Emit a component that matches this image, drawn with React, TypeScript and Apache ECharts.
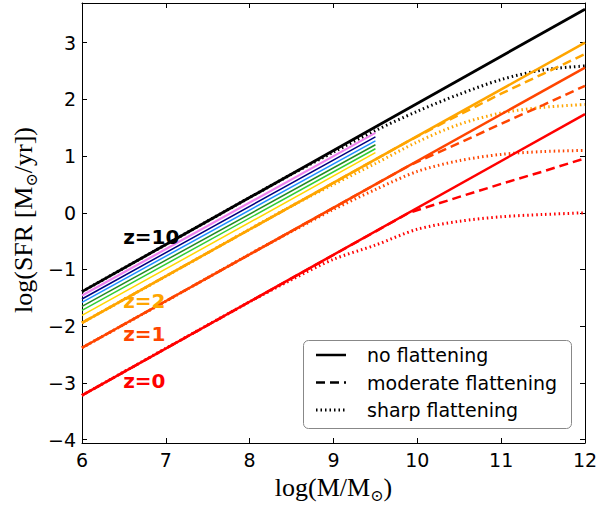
import React, { useEffect, useRef } from "react";
import * as echarts from "echarts";

// ---- axes ----
const X_MIN = 6;
const X_MAX = 12;
const Y_MIN = -4.06;
const Y_MAX = 3.7;
const yTicks = [-4, -3, -2, -1, 0, 1, 2, 3];

// ---- no flattening (straight main sequences) ----
const xFull = [6, 12];
const solidZ10 = [-1.39, 3.59];
const solidZ2 = [-1.94, 3.0];
const solidZ1 = [-2.38, 2.56];
const solidZ0 = [-3.22, 1.74];

// ---- intermediate redshifts (thin lines, stop at 9.5) ----
const xShort = [6, 9.5];
const thinZ9 = [-1.46, 1.41];
const thinZ8 = [-1.52, 1.34];
const thinZ7 = [-1.58, 1.27];
const thinZ6 = [-1.65, 1.2];
const thinZ5 = [-1.72, 1.13];
const thinZ3 = [-1.81, 1.06];

// ---- moderate flattening (dashed) ----
const xDashed = [6, 9.9, 10.5, 11, 11.5, 12];
const dashedZ2 = [-1.94, 1.27, 1.73, 2.1, 2.45, 2.8];
const dashedZ1 = [-2.38, 0.83, 1.23, 1.57, 1.9, 2.24];
const dashedZ0 = [-3.22, 0.0, 0.28, 0.51, 0.73, 0.96];

// ---- sharp flattening (dotted) ----
const xDotted = [6, 7, 8, 8.5, 9, 9.5, 10, 10.5, 11, 11.5, 12];
const dottedZ10 = [-1.39, -0.56, 0.27, 0.68, 1.07, 1.45, 1.79, 2.09, 2.35, 2.52, 2.59];
const dottedZ2 = [-1.94, -1.12, -0.29, 0.12, 0.5, 0.87, 1.25, 1.56, 1.76, 1.86, 1.91];
const dottedZ1 = [-2.38, -1.56, -0.73, -0.33, 0.06, 0.41, 0.73, 0.92, 1.03, 1.08, 1.1];
const dottedZ0 = [-3.22, -2.39, -1.57, -1.18, -0.82, -0.57, -0.29, -0.15, -0.07, -0.03, 0.0];

// ---- annotations ----
const zLabelText = ["z=10", "z=2", "z=1", "z=0"];
const zLabelX = [6.49, 6.49, 6.49, 6.49];
const zLabelY = [-0.42, -1.56, -2.13, -2.97];
const zLabelColor = ["#000000", "#ffa500", "#ff4500", "#ff0000"];

const legendLabels = ["no flattening", "moderate flattening", "sharp flattening"];

const RED = "#ff0000";
const ORANGERED = "#ff4500";
const ORANGE = "#ffa500";

const pts = (xs: number[], ys: number[]) => xs.map((x, i) => [x, ys[i]]);

const DASH = [9, 5];
const DOT = [1.5, 3];

function lineSeries(name: string, data: number[][], color: string, width: number, type: any, smooth: any = false) {
  return {
    type: "line",
    name,
    data,
    showSymbol: false,
    symbol: "none",
    smooth,
    silent: true,
    xAxisIndex: 0,
    yAxisIndex: 0,
    lineStyle: { color, width, type, cap: "butt", opacity: 1 },
  };
}

export default function App() {
  const ref = useRef<HTMLDivElement>(null);
  useEffect(() => {
    if (!ref.current) return;
    const chart = echarts.init(ref.current, undefined, { renderer: "svg" });
    const tickFont = { fontSize: 19, color: "#000", fontFamily: "DejaVu Sans" };
    const axisCommon = {
      type: "value",
      axisLine: { show: true, onZero: false, lineStyle: { color: "#000", width: 1 } },
      axisTick: { show: true, inside: true, length: 5, lineStyle: { color: "#000", width: 1 } },
      splitLine: { show: false },
    };
    const series: any[] = [
      lineSeries("sharp z10", pts(xDotted, dottedZ10), "#000000", 3, DOT, 0.3),
      lineSeries("sharp z2", pts(xDotted, dottedZ2), ORANGE, 3, DOT, 0.3),
      lineSeries("sharp z1", pts(xDotted, dottedZ1), ORANGERED, 3, DOT, 0.3),
      lineSeries("sharp z0", pts(xDotted, dottedZ0), RED, 3, DOT, 0.3),
      lineSeries("moderate z2", pts(xDashed, dashedZ2), ORANGE, 2.5, DASH),
      lineSeries("moderate z1", pts(xDashed, dashedZ1), ORANGERED, 2.5, DASH),
      lineSeries("moderate z0", pts(xDashed, dashedZ0), RED, 2.5, DASH),
      lineSeries("z3", pts(xShort, thinZ3), "#ffd700", 1.5, "solid"),
      lineSeries("z5", pts(xShort, thinZ5), "#32cd32", 1.5, "solid"),
      lineSeries("z6", pts(xShort, thinZ6), "#228b22", 1.5, "solid"),
      lineSeries("z7", pts(xShort, thinZ7), "#1e90ff", 1.5, "solid"),
      lineSeries("z8", pts(xShort, thinZ8), "#000080", 1.5, "solid"),
      lineSeries("z9", pts(xShort, thinZ9), "#ee82ee", 2.2, "solid"),
      lineSeries("z0", pts(xFull, solidZ0), RED, 2.5, "solid"),
      lineSeries("z1", pts(xFull, solidZ1), ORANGERED, 2.5, "solid"),
      lineSeries("z2", pts(xFull, solidZ2), ORANGE, 2.5, "solid"),
      lineSeries("z10", pts(xFull, solidZ10), "#000000", 2.8, "solid"),
      {
        type: "scatter",
        name: "labels",
        silent: true,
        symbolSize: 0.1,
        itemStyle: { color: "rgba(0,0,0,0)", opacity: 1 },
        data: zLabelText.map((t, i) => ({
          value: [zLabelX[i], zLabelY[i]],
          label: { formatter: t, color: zLabelColor[i], opacity: 1 },
        })),
        label: {
          show: true,
          position: "right",
          distance: 0,
          fontSize: 20,
          fontWeight: "bold",
          fontFamily: "DejaVu Sans",
          opacity: 1,
        },
        z: 10,
      },
    ];

    const legendY = [355, 382.5, 410];
    const legendDash: any[] = [null, DASH, DOT];
    const legendElems: any[] = [
      {
        type: "rect",
        shape: { x: 303.5, y: 340.5, width: 268, height: 88, r: 5 },
        style: { fill: "#ffffff", stroke: "#888888", lineWidth: 1 },
        z: 100,
      },
    ];
    legendLabels.forEach((t, i) => {
      legendElems.push({
        type: "line",
        shape: { x1: 316, y1: legendY[i], x2: 346, y2: legendY[i] },
        style: {
          stroke: "#000",
          lineWidth: i === 2 ? 3 : 2.5,
          lineDash: legendDash[i],
          lineCap: "butt",
        },
        z: 101,
      });
      legendElems.push({
        type: "text",
        x: 367,
        y: legendY[i],
        style: {
          text: t,
          fontSize: 19,
          fontFamily: "DejaVu Sans",
          fill: "#000",
          align: "left",
          verticalAlign: "middle",
        },
        z: 101,
      });
    });

    const titleRich = {
      m: { fontSize: 26, fontFamily: "Liberation Serif", fill: "#000", color: "#000", lineHeight: 32, verticalAlign: "middle" },
      s: { fontSize: 16, fontFamily: "DejaVu Serif", fill: "#000", color: "#000", lineHeight: 32, verticalAlign: "bottom" },
    };

    chart.setOption({
      animation: false,
      grid: { left: 82, right: 13, top: 3, bottom: 64, containLabel: false, outerBoundsMode: "none" },
      xAxis: [
        {
          ...axisCommon,
          position: "bottom",
          min: X_MIN,
          max: X_MAX,
          interval: 1,
          axisLabel: { ...tickFont, margin: 7 },
        },
        {
          ...axisCommon,
          position: "top",
          min: X_MIN,
          max: X_MAX,
          interval: 1,
          axisLabel: { show: false },
        },
      ],
      yAxis: [
        {
          ...axisCommon,
          position: "left",
          min: Y_MIN,
          max: Y_MAX,
          axisTick: { ...axisCommon.axisTick, customValues: yTicks },
          axisLabel: {
            ...tickFont,
            margin: 6,
            customValues: yTicks,
            formatter: (v: number) => String(Math.round(v)).replace("-", "\u2212"),
          },
        },
        {
          ...axisCommon,
          position: "right",
          min: Y_MIN,
          max: Y_MAX,
          axisTick: { ...axisCommon.axisTick, customValues: yTicks },
          axisLabel: { show: false, customValues: yTicks },
        },
      ],
      series,
      graphic: [
        ...legendElems,
        {
          type: "text",
          x: 333.5,
          y: 487,
          style: {
            text: "{m|log(M/M}{s|\u2299}{m|)}",
            rich: titleRich,
            align: "center",
            verticalAlign: "middle",
          },
        },
        {
          type: "text",
          x: 23,
          y: 220,
          rotation: Math.PI / 2,
          style: {
            text: "{m|log(SFR [M}{s|\u2299}{m|/yr])}",
            rich: titleRich,
            align: "center",
            verticalAlign: "middle",
          },
        },
      ],
    });
    return () => chart.dispose();
  }, []);
  return (
    <div
      ref={ref}
      style={{ position: "absolute", left: 0, top: 0, width: 598, height: 507, background: "#fff" }}
    />
  );
}
